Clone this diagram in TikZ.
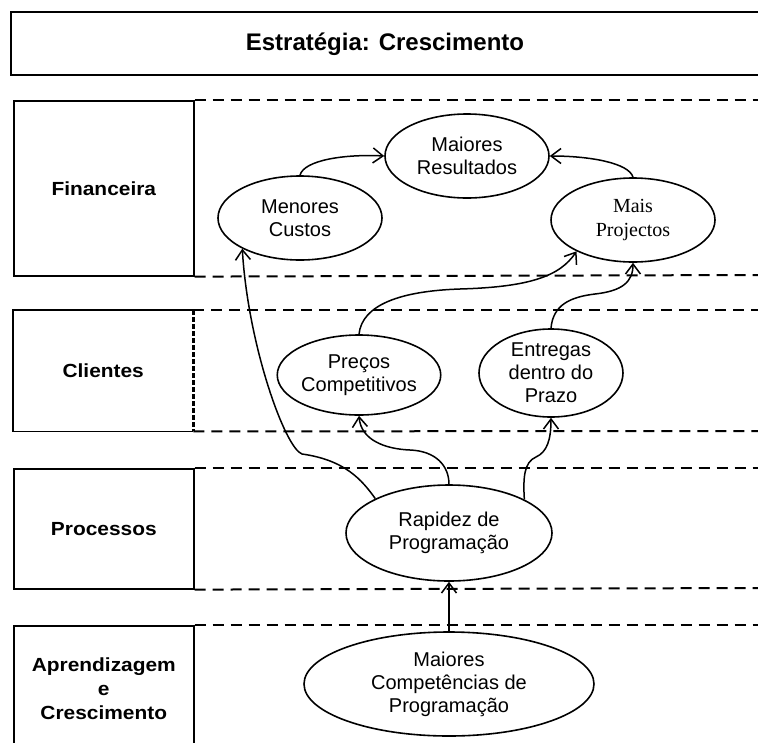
\documentclass[tikz,border=0pt]{standalone}
\usepackage{graphicx}
\usepackage{fontspec}
\setmainfont{Liberation Sans}
\newfontfamily\timesfont{Liberation Serif}
\usetikzlibrary{shapes.geometric,arrows.meta}
\begin{document}
\begin{tikzpicture}[x=1pt,y=-1pt,
  goal/.style={ellipse,draw,line width=1.6pt,inner sep=0pt,align=center,
    font=\fontsize{20}{23}\selectfont},
  link/.style={line width=1.5pt,
    -{Straight Barb[length=10pt,width=15pt,line width=1.5pt]}},
  frame/.style={draw,line width=1.6pt},
  persp/.style={inner sep=0pt,align=center,font=\fontsize{19}{24}\bfseries},
  sep/.style={line width=2pt,dash pattern=on 11pt off 7pt},
  cliside/.style={line width=3pt,dash pattern=on 5pt off 2pt}]
\useasboundingbox (0,0) rectangle (758,742);
\clip (0,0) rectangle (758,742);

% strategy header
\draw[frame] (11,12) rectangle (780,75);
\node[font=\fontsize{24}{28}\bfseries] (title) at (385,44) {Estratégia: Crescimento};

% perspective boxes
\node[frame,minimum width=180pt,minimum height=175pt,anchor=north west,persp] (fin) at (13,100)
  {\scalebox{1.1}[1]{Financeira}};
\node[minimum width=180pt,minimum height=121pt,anchor=north west,persp] (cli) at (13,310)
  {\scalebox{1.1}[1]{Clientes}};
\draw[line width=1.6pt] (cli.north east) -- (cli.north west) -- (cli.south west) -- (cli.south east);
\draw[cliside] (cli.north east) -- (cli.south east);
\node[frame,minimum width=180pt,minimum height=120pt,anchor=north west,persp] (pro) at (13,468)
  {\scalebox{1.1}[1]{Processos}};
\node[frame,minimum width=180pt,minimum height=125pt,anchor=north west,persp] (apr) at (13,625)
  {\scalebox{1.1}[1]{Aprendizagem}\\\scalebox{1.1}[1]{e}\\\scalebox{1.1}[1]{Crescimento}};

% band separators
\coordinate (finT) at (758,100);
\coordinate (finB) at (758,275);
\coordinate (cliT) at (758,310);
\coordinate (cliB) at (758,431);
\coordinate (proT) at (758,468);
\coordinate (proB) at (758,588);
\coordinate (aprT) at (758,625);
\draw[sep] (fin.north east) -- (finT);
\draw[sep] (fin.south east) -- (finB);
\draw[sep] (cli.north east) -- (cliT);
\draw[sep] (cli.south east) -- (cliB);
\draw[sep] (pro.north east) -- (proT);
\draw[sep] (pro.south east) -- (proB);
\draw[sep] (apr.north east) -- (aprT);

% objectives
\node[goal,minimum width=164pt,minimum height=84pt] (mr) at (467,156) {Maiores\\Resultados};
\node[goal,minimum width=164pt,minimum height=84pt] (mc) at (300,218) {Menores\\Custos};
\node[goal,minimum width=164pt,minimum height=84pt,font=\timesfont\fontsize{20}{24}\selectfont] (mp) at (633,220) {Mais\\Projectos};
\node[goal,minimum width=160pt,minimum height=80pt] (pc) at (359,375) {Preços\\Competitivos};
\node[goal,minimum width=144pt,minimum height=88pt] (ep) at (551,373) {Entregas\\dentro do\\Prazo};
\node[goal,minimum width=206pt,minimum height=96pt] (rp) at (449,533) {Rapidez de\\Programação};
\node[goal,minimum width=290pt,minimum height=104pt] (cp) at (449,684) {Maiores\\Competências de\\Programação};

% cause and effect links
\draw[link] (mc.north) .. controls (304,160) and (345,154) .. (mr.west);
\draw[link] (mp.north) .. controls (629,163) and (590,156) .. (mr.east);
\draw[link] (rp.155) .. controls (362,480) and (345,460) .. (302,454)
  .. controls (285,448) and (248,345) .. (mc.208);
\draw[link] (rp.north) .. controls (449,466) and (436,451) .. (410,450)
  .. controls (385,449) and (361,440) .. (pc.south);
\draw[link] (rp.24) .. controls (523,478) and (524,462) .. (536,457)
  .. controls (547,452) and (551,440) .. (ep.south);
\draw[link] (pc.north) .. controls (362,305) and (400,291) .. (460,289)
  .. controls (530,287) and (560,276) .. (mp.209);
\draw[link] (ep.north) .. controls (553,305) and (570,297) .. (595,294)
  .. controls (622,291) and (633,282) .. (mp.south);
\draw[link] (cp.north) -- (rp.south);
\end{tikzpicture}
\end{document}
